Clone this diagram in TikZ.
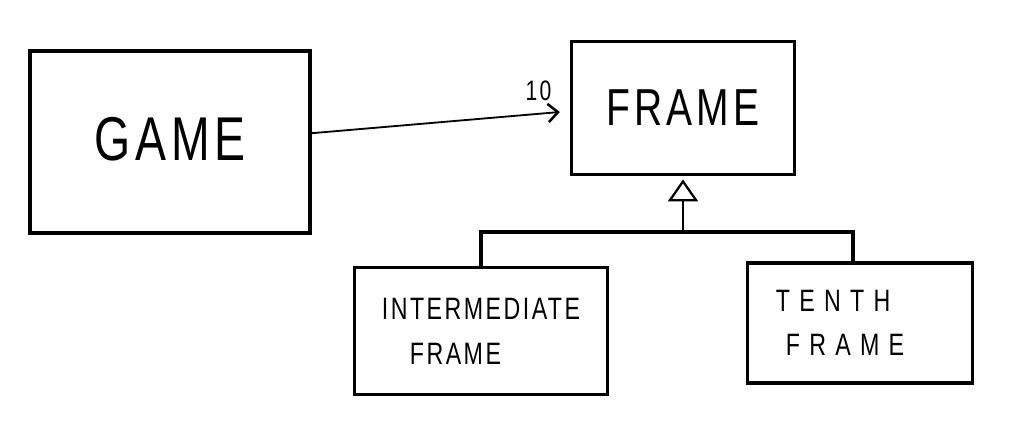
\documentclass[tikz,border=0pt]{standalone}
\usepackage{fontspec}
\newfontfamily\sketchfont{Liberation Sans}[FakeStretch=0.75,LetterSpace=8]
\usetikzlibrary{arrows.meta,positioning}

\begin{document}
\begin{tikzpicture}[x=0.025cm,y=-0.025cm,
  classbox/.style={draw,line width=2.4pt,rectangle,inner sep=0pt},
  link/.style={line width=1.3pt}]
  \useasboundingbox (0,0) rectangle (1010,420);
  % classes
  \node[classbox,minimum width=7cm,minimum height=4.55cm,
    font=\sketchfont\fontsize{44}{50}\selectfont] (game) at (170,142) {\raisebox{0.15cm}{GAME}};
  \node[classbox,minimum width=5.575cm,minimum height=3.325cm,
    font=\sketchfont\fontsize{37}{42}\selectfont] (frame) at (683,108) {FRAME};
  \node[classbox,minimum width=6.325cm,minimum height=3.175cm,align=left,
    font=\sketchfont\fontsize{22}{32}\selectfont] (inter) at (481,331) {INTERMEDIATE\\\hspace*{0.7cm}FRAME};
  \node[classbox,minimum width=5.625cm,minimum height=3cm,align=left,
    font=\sketchfont\addfontfeature{LetterSpace=30}\fontsize{22}{31}\selectfont] (tenth) at (860,323) {TENTH\\\hspace*{0.25cm}FRAME\hspace*{1cm}};
  % association
  \draw[link,-{Straight Barb[length=7pt,width=13pt,line width=1.8pt]}]
    ([yshift=0.22cm]game.east) -- ([xshift=-0.25cm,yshift=-0.1cm]frame.west)
    node[above left=4pt and 2pt,font=\sketchfont\fontsize{20}{24}\selectfont] (mult) {10};
  % inheritance
  \coordinate (joint) at (683,232);
  \draw[line width=1.1pt,-{Triangle[open,length=0.55cm,width=0.75cm,line width=1.6pt]}]
    (joint) -- ([yshift=-0.08cm]frame.south);
  \draw[line width=2.4pt] (inter.north) |- (joint) -| ([xshift=-0.18cm]tenth.north);
\end{tikzpicture}
\end{document}
